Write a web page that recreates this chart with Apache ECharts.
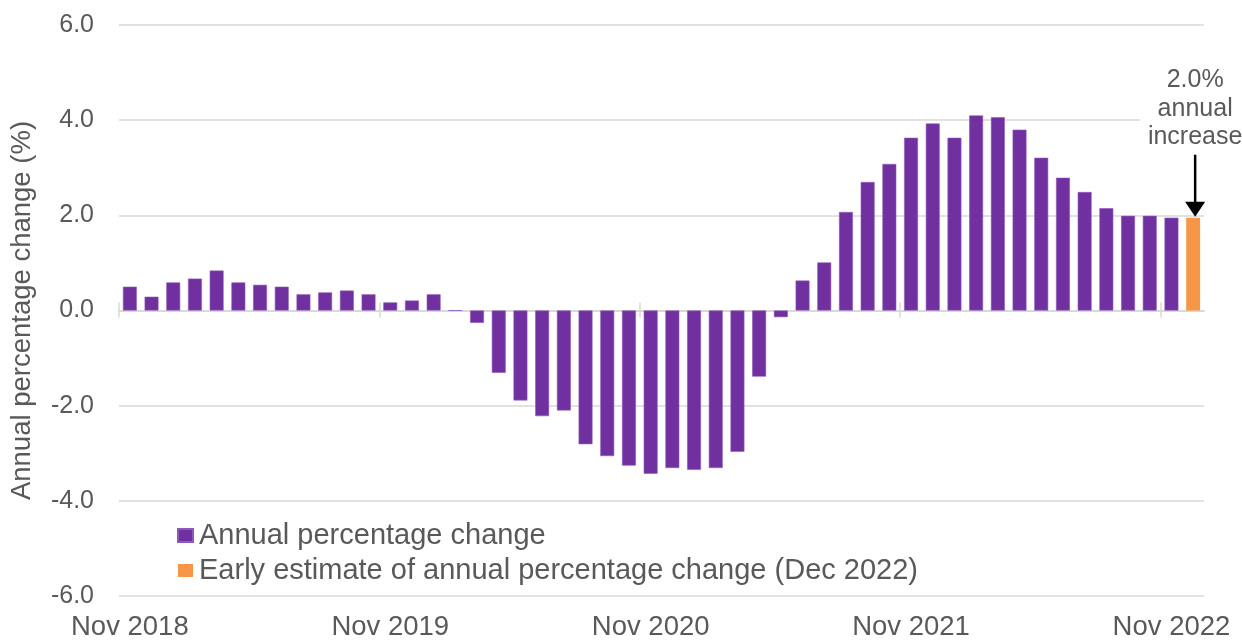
<!DOCTYPE html>
<html>
<head>
<meta charset="utf-8">
<script src="https://cdn.jsdelivr.net/npm/echarts@6/dist/echarts.min.js"></script>
<style>html,body{margin:0;padding:0;background:#fff}#c{width:1242px;height:641px}</style>
</head>
<body>
<div id="c"></div>
<script>
const months = ['Nov 2018','Dec 2018','Jan 2019','Feb 2019','Mar 2019','Apr 2019','May 2019','Jun 2019','Jul 2019','Aug 2019','Sep 2019','Oct 2019',
'Nov 2019','Dec 2019','Jan 2020','Feb 2020','Mar 2020','Apr 2020','May 2020','Jun 2020','Jul 2020','Aug 2020','Sep 2020','Oct 2020',
'Nov 2020','Dec 2020','Jan 2021','Feb 2021','Mar 2021','Apr 2021','May 2021','Jun 2021','Jul 2021','Aug 2021','Sep 2021','Oct 2021',
'Nov 2021','Dec 2021','Jan 2022','Feb 2022','Mar 2022','Apr 2022','May 2022','Jun 2022','Jul 2022','Aug 2022','Sep 2022','Oct 2022',
'Nov 2022','Dec 2022'];
const annualChange = [0.50,0.29,0.59,0.67,0.84,0.59,0.54,0.50,0.34,0.38,0.42,0.34,
0.17,0.21,0.34,0.0,-0.26,-1.31,-1.89,-2.22,-2.10,-2.81,-3.06,-3.26,
-3.43,-3.31,-3.35,-3.31,-2.97,-1.39,-0.14,0.63,1.01,2.07,2.70,3.08,
3.63,3.93,3.63,4.10,4.06,3.80,3.21,2.79,2.49,2.15,1.99,1.99,
1.95,null];
const earlyEstimate = [null,null,null,null,null,null,null,null,null,null,null,null,
null,null,null,null,null,null,null,null,null,null,null,null,
null,null,null,null,null,null,null,null,null,null,null,null,
null,null,null,null,null,null,null,null,null,null,null,null,
null,1.95];
const yTicks = {min:-6, max:6, interval:2};
const labelEvery = 12;
const annotationLines = ['2.0%','annual','increase'];
const seriesNames = ['Annual percentage change','Early estimate of annual percentage change (Dec 2022)'];

const FONT = '"Liberation Sans", Arial, sans-serif';
const TXT = '#595959';
// tick positions: band boundaries before every 12th month (derived from the category indices)
const tickBoundaries = months.map((m,i)=>i).filter(i=>i%labelEvery===0).map(i=>i-0.5);
const chart = echarts.init(document.getElementById('c'));
const tickAxis = (inside) => ({
  type:'value', min:-0.5, max:months.length-0.5, gridIndex:0, position:'bottom',
  axisLine:{show: !inside, onZero:true, onZeroAxisIndex:0, lineStyle:{color:'#d9d9d9', width:2}},
  axisTick:{show:true, customValues:tickBoundaries, inside: inside, length: inside?8:7, lineStyle:{color:'#d9d9d9', width:1.5}},
  axisLabel:{show:false}, splitLine:{show:false}
});
chart.setOption({
  animation:false,
  textStyle:{fontFamily:FONT},
  grid:{left:116.5, right:38, top:25, bottom:43, containLabel:false},
  legend:{
    orient:'vertical', left:172, top:516, itemGap:6, itemWidth:15, itemHeight:13,
    icon:'rect', data:seriesNames,
    textStyle:{fontSize:29, color:TXT, fontFamily:FONT, padding:[0,0,0,1]}
  },
  xAxis:[
    {type:'category', data: months, position:'bottom',
     axisLine:{show:false, onZero:false}, axisTick:{show:false},
     axisLabel:{interval:labelEvery-1, fontSize:27.5, color:TXT, margin:17, fontFamily:FONT},
     splitLine:{show:false}},
    tickAxis(false),
    tickAxis(true)
  ],
  yAxis:{
    type:'value', min:yTicks.min, max:yTicks.max, interval:yTicks.interval,
    name:'Annual percentage change (%)', nameLocation:'middle', nameGap:83,
    nameTextStyle:{fontSize:27.5, color:TXT, fontFamily:FONT},
    axisLine:{show:false}, axisTick:{show:false},
    axisLabel:{fontSize:25, color:TXT, margin:25, fontFamily:FONT, formatter:v=>v.toFixed(1)},
    splitLine:{lineStyle:{color:'#d9d9d9', width:1.5}}
  },
  series:[
    {name:seriesNames[0], type:'bar', data:annualChange, barWidth:'64%', barGap:'-100%',
     itemStyle:{color:'#7030a0', borderColor:'#8e5ab8', borderWidth:0.6}},
    {name:seriesNames[1], type:'bar', data:earlyEstimate, barWidth:'64%', barGap:'-100%',
     itemStyle:{color:'#f79646'}}
  ]
});
const last = months.length - 1;
const p = chart.convertToPixel({xAxisIndex:0, yAxisIndex:0}, [months[last], earlyEstimate[last]]);
const endY = p[1] - 1, startY = endY - 62, cx = p[0] + 2;
chart.setOption({graphic:[
  {type:'line', shape:{x1:cx, y1:startY, x2:cx, y2:endY-12}, style:{stroke:'#000', lineWidth:2.5}, z:100},
  {type:'polygon', shape:{points:[[cx-10,endY-15],[cx+10,endY-15],[cx,endY]]}, style:{fill:'#000'}, z:100},
  {type:'text', x:cx, y:startY-3, z:99,
   style:{text:annotationLines.join('\n'), fontSize:25, lineHeight:28.5, fill:TXT, fontFamily:FONT,
          align:'center', verticalAlign:'bottom', backgroundColor:'#fff', padding:[0,8,0,8]}}
]});
</script>
</body>
</html>
